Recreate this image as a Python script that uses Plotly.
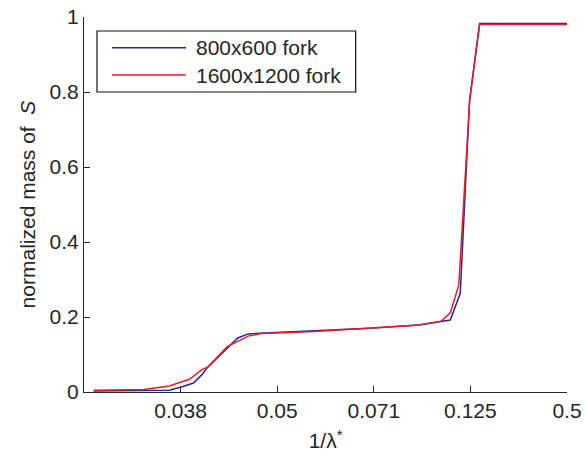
import plotly.graph_objects as go

# lambda* positions (x axis shows 1/lambda*, axis runs in lambda* reversed)
lam_800 = [31.4, 28.3, 26.7, 25.9, 25.2, 24.7, 24.3, 23.1, 22.45, 21.8, 20.2, 18.0, 14.3, 11.2, 9.8, 9.25, 8.63, 8.05, 7.43, 2.0]
mass_800 = [0.003, 0.003, 0.005, 0.014, 0.024, 0.045, 0.067, 0.117, 0.144, 0.155, 0.158, 0.162, 0.170, 0.179, 0.189, 0.192, 0.263, 0.778, 0.983, 0.983]

lam_1600 = [31.4, 28.3, 26.7, 25.45, 24.7, 24.3, 23.1, 21.8, 21.0, 18.0, 14.3, 11.2, 9.8, 9.25, 8.72, 8.05, 7.43, 2.0]
mass_1600 = [0.005, 0.007, 0.016, 0.034, 0.059, 0.067, 0.121, 0.149, 0.156, 0.161, 0.170, 0.179, 0.189, 0.211, 0.285, 0.775, 0.980, 0.980]

series_names = ["800x600 fork", "1600x1200 fork"]
series_colors = ["#26269a", "#ec1c24"]

tick_lam = [26, 20, 14, 8, 2]
tick_text = ["0.038", "0.05", "0.071", "0.125", "0.5"]
y_ticks = [0, 0.2, 0.4, 0.6, 0.8, 1]
y_text = ["0", "0.2", "0.4", "0.6", "0.8", "1"]

FONT = "Liberation Sans, Arial, Helvetica, sans-serif"
AX = "#262626"

fig = go.Figure()
for lam, mass, nm, col in [(lam_800, mass_800, series_names[0], series_colors[0]),
                           (lam_1600, mass_1600, series_names[1], series_colors[1])]:
    fig.add_trace(go.Scatter(x=lam, y=mass, mode="lines", name=nm,
                             line=dict(color=col, width=1.5), showlegend=False))

# legend box drawn as decoration in paper coordinates
fig.add_shape(type="rect", xref="paper", yref="paper", x0=0.0269, x1=0.5625, y0=0.800, y1=0.9627,
              line=dict(color="#111111", width=1.2), fillcolor="white", layer="above")
leg_y = [0.918, 0.8453]
for i in range(2):
    fig.add_shape(type="line", xref="paper", yref="paper", x0=0.0579, x1=0.211, y0=leg_y[i], y1=leg_y[i],
                  line=dict(color=series_colors[i], width=1.5), layer="above")
    fig.add_annotation(xref="paper", yref="paper", x=0.2275, y=leg_y[i], xanchor="left", yanchor="middle",
                       text=series_names[i], showarrow=False, font=dict(size=21, color=AX))

fig.update_layout(
    width=586, height=464,
    margin=dict(l=84, r=18.5, t=17, b=72, autoexpand=False),
    paper_bgcolor="white", plot_bgcolor="white",
    font=dict(family=FONT, size=21, color=AX),
    showlegend=False,
    xaxis=dict(range=[32, 2], tickmode="array", tickvals=tick_lam, ticktext=tick_text,
               showgrid=False, zeroline=False, showline=True, linecolor=AX, linewidth=1.2,
               ticks="inside", ticklen=6, tickcolor=AX, tickwidth=1.2, automargin=False,
               tickfont=dict(size=21, color=AX),
               title=dict(text="1/λ<sup>*</sup>", font=dict(size=21, color=AX), standoff=12)),
    yaxis=dict(range=[0, 1], tickmode="array", tickvals=y_ticks, ticktext=y_text,
               showgrid=False, zeroline=False, showline=True, linecolor=AX, linewidth=1.2,
               ticks="inside", ticklen=6, tickcolor=AX, tickwidth=1.2, automargin=False,
               tickfont=dict(size=21, color=AX),
               title=dict(text="normalized mass of  <i>S</i>", font=dict(size=21, color=AX), standoff=8)),
)

fig.write_html("out.html")
